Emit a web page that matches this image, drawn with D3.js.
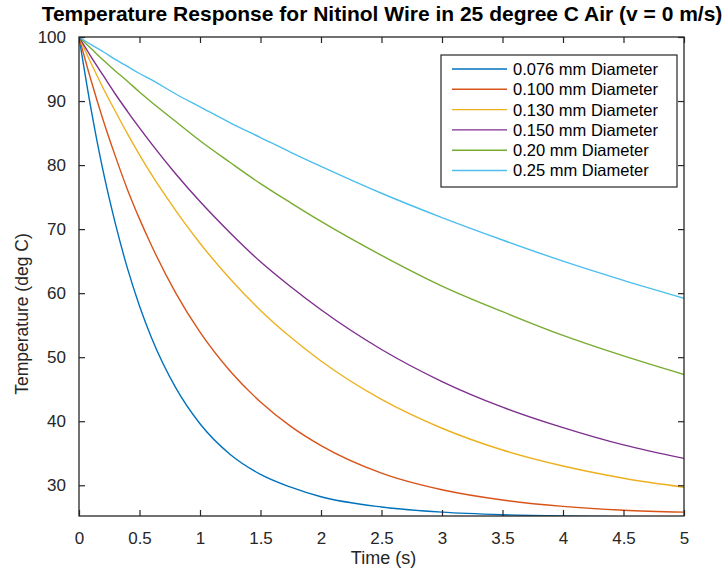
<!DOCTYPE html>
<html>
<head>
<meta charset="utf-8">
<script src="https://cdn.jsdelivr.net/npm/d3@7"></script>
<style>
    body { margin: 0; background: #fff; }
    text { font-family: "Liberation Sans", Arial, Helvetica, sans-serif; fill: #262626; }
</style>
</head>
<body>
<svg id="chart" width="724" height="575"></svg>
<script>
/**
 * Data.
 */
const times = [0, 0.1, 0.2, 0.3, 0.4, 0.5, 0.6, 0.8, 1.0, 1.25, 1.5, 1.75, 2.0, 2.5, 3.0, 3.5, 4.0, 4.5, 5.0];

const d076 = [100, 88.7, 79.0, 70.9, 63.9, 58.0, 53.0, 45.2, 39.6, 34.8, 31.7, 29.7, 28.2, 26.6, 25.8, 25.4, 25.2, 25.1, 25.0];
const d100 = [100, 93.2, 87.0, 81.4, 76.2, 71.6, 67.4, 60.0, 53.9, 47.8, 43.0, 39.2, 36.2, 31.9, 29.3, 27.7, 26.7, 26.1, 25.8];
const d130 = [100, 95.9, 92.0, 88.4, 84.9, 81.6, 78.5, 72.9, 67.8, 62.2, 57.3, 53.1, 49.4, 43.4, 38.9, 35.5, 33.0, 31.1, 29.7];
const d150 = [100, 96.9, 94.0, 91.1, 88.4, 85.8, 83.3, 78.6, 74.3, 69.4, 64.9, 61.0, 57.4, 51.2, 46.2, 42.2, 39.0, 36.3, 34.2];
const d200 = [100, 98.2, 96.4, 94.7, 93.1, 91.4, 89.8, 86.8, 83.8, 80.4, 77.1, 74.1, 71.2, 65.9, 61.1, 57.1, 53.4, 50.2, 47.3];
const d250 = [100, 98.8, 97.7, 96.5, 95.4, 94.3, 93.3, 91.1, 89.1, 86.6, 84.3, 82.0, 79.8, 75.6, 71.8, 68.3, 65.0, 62.0, 59.2];

const seriesNames = ['0.076 mm Diameter', '0.100 mm Diameter', '0.130 mm Diameter',
    '0.150 mm Diameter', '0.20 mm Diameter', '0.25 mm Diameter'];
const seriesValues = [d076, d100, d130, d150, d200, d250];
const colors = ['#0072BD', '#D95319', '#EDB120', '#7E2F8E', '#77AC30', '#4DBEEE'];

const xTicks = [0, 0.5, 1, 1.5, 2, 2.5, 3, 3.5, 4, 4.5, 5];
const yTicks = [30, 40, 50, 60, 70, 80, 90, 100];

const titleText = 'Temperature Response for Nitinol Wire in 25 degree C Air (v = 0 m/s)',
    xLabel = 'Time (s)',
    yLabel = 'Temperature (deg C)';

/**
 * Visual configs.
 */
const plot = { left: 79, right: 684, top: 37, bottom: 516 },
    tickSize = 6,
    axisColor = '#262626';

const svg = d3.select('#chart');

const xScale = d3.scaleLinear().domain([0, 5]).range([plot.left, plot.right]),
    yScale = d3.scaleLinear().domain([25.2, 100]).range([plot.bottom, plot.top]);

svg.append('rect').attr('width', 724).attr('height', 575).attr('fill', '#fff');

svg.append('defs').append('clipPath').attr('id', 'plot-clip')
    .append('rect')
    .attr('x', plot.left).attr('y', plot.top)
    .attr('width', plot.right - plot.left).attr('height', plot.bottom - plot.top);

/**
 * Lines.
 */
const line = d3.line()
    .x(d => xScale(d[0]))
    .y(d => yScale(d[1]))
    .curve(d3.curveMonotoneX);

const lineContainer = svg.append('g').attr('clip-path', 'url(#plot-clip)');
seriesValues.forEach((vals, i) => {
    lineContainer.append('path')
        .attr('d', line(times.map((t, j) => [t, vals[j]])))
        .attr('fill', 'none')
        .attr('stroke', colors[i])
        .attr('stroke-width', 1.4);
});

/**
 * Axes (MATLAB-style box with inward ticks).
 */
function styleAxis(g) {
    g.select('.domain').remove();
    g.selectAll('.tick line').attr('stroke', axisColor).attr('stroke-width', 1.2);
    g.selectAll('.tick text').style('font-size', '17px').attr('fill', axisColor);
}

svg.append('g')
    .attr('transform', 'translate(0,' + plot.bottom + ')')
    .call(d3.axisBottom(xScale).tickValues(xTicks).tickFormat(d3.format('')).tickSizeInner(-tickSize).tickPadding(12))
    .call(styleAxis)
    .selectAll('.tick text').attr('dy', '0.95em');

svg.append('g')
    .attr('transform', 'translate(0,' + plot.top + ')')
    .call(d3.axisTop(xScale).tickValues(xTicks).tickSizeInner(-tickSize).tickFormat(''))
    .call(styleAxis);

svg.append('g')
    .attr('transform', 'translate(' + plot.left + ',0)')
    .call(d3.axisLeft(yScale).tickValues(yTicks).tickSizeInner(-tickSize).tickPadding(13))
    .call(styleAxis);

svg.append('g')
    .attr('transform', 'translate(' + plot.right + ',0)')
    .call(d3.axisRight(yScale).tickValues(yTicks).tickSizeInner(-tickSize).tickFormat(''))
    .call(styleAxis);

svg.append('rect')
    .attr('x', plot.left).attr('y', plot.top)
    .attr('width', plot.right - plot.left).attr('height', plot.bottom - plot.top)
    .attr('fill', 'none')
    .attr('stroke', axisColor)
    .attr('stroke-width', 1.3);

/**
 * Texts.
 */
svg.append('text')
    .attr('x', 382).attr('y', 21)
    .attr('text-anchor', 'middle')
    .style('font-size', '21px')
    .style('font-weight', 'bold')
    .style('fill', '#000')
    .text(titleText);

svg.append('text')
    .attr('x', 383.5).attr('y', 564)
    .attr('text-anchor', 'middle')
    .style('font-size', '18px')
    .text(xLabel);

svg.append('text')
    .attr('transform', 'translate(28,314) rotate(-90)')
    .attr('text-anchor', 'middle')
    .style('font-size', '17.5px')
    .text(yLabel);

/**
 * Legend.
 */
const legend = { x: 441, y: 55, w: 236, h: 132, rowY: 69, rowStep: 20.3 };
const legendContainer = svg.append('g');

legendContainer.append('rect')
    .attr('x', legend.x).attr('y', legend.y)
    .attr('width', legend.w).attr('height', legend.h)
    .attr('fill', '#fff')
    .attr('stroke', axisColor)
    .attr('stroke-width', 1.2);

const rows = legendContainer.selectAll('.row').data(seriesNames).enter()
    .append('g').attr('class', 'row')
    .attr('transform', (d, i) => 'translate(0,' + (legend.rowY + i * legend.rowStep) + ')');

rows.append('line')
    .attr('x1', 452).attr('x2', 507)
    .attr('stroke', (d, i) => colors[i])
    .attr('stroke-width', 1.4);

rows.append('text')
    .attr('x', 513).attr('dy', '0.36em')
    .style('font-size', '16.5px')
    .style('fill', '#000')
    .text(d => d);
</script>
</body>
</html>
